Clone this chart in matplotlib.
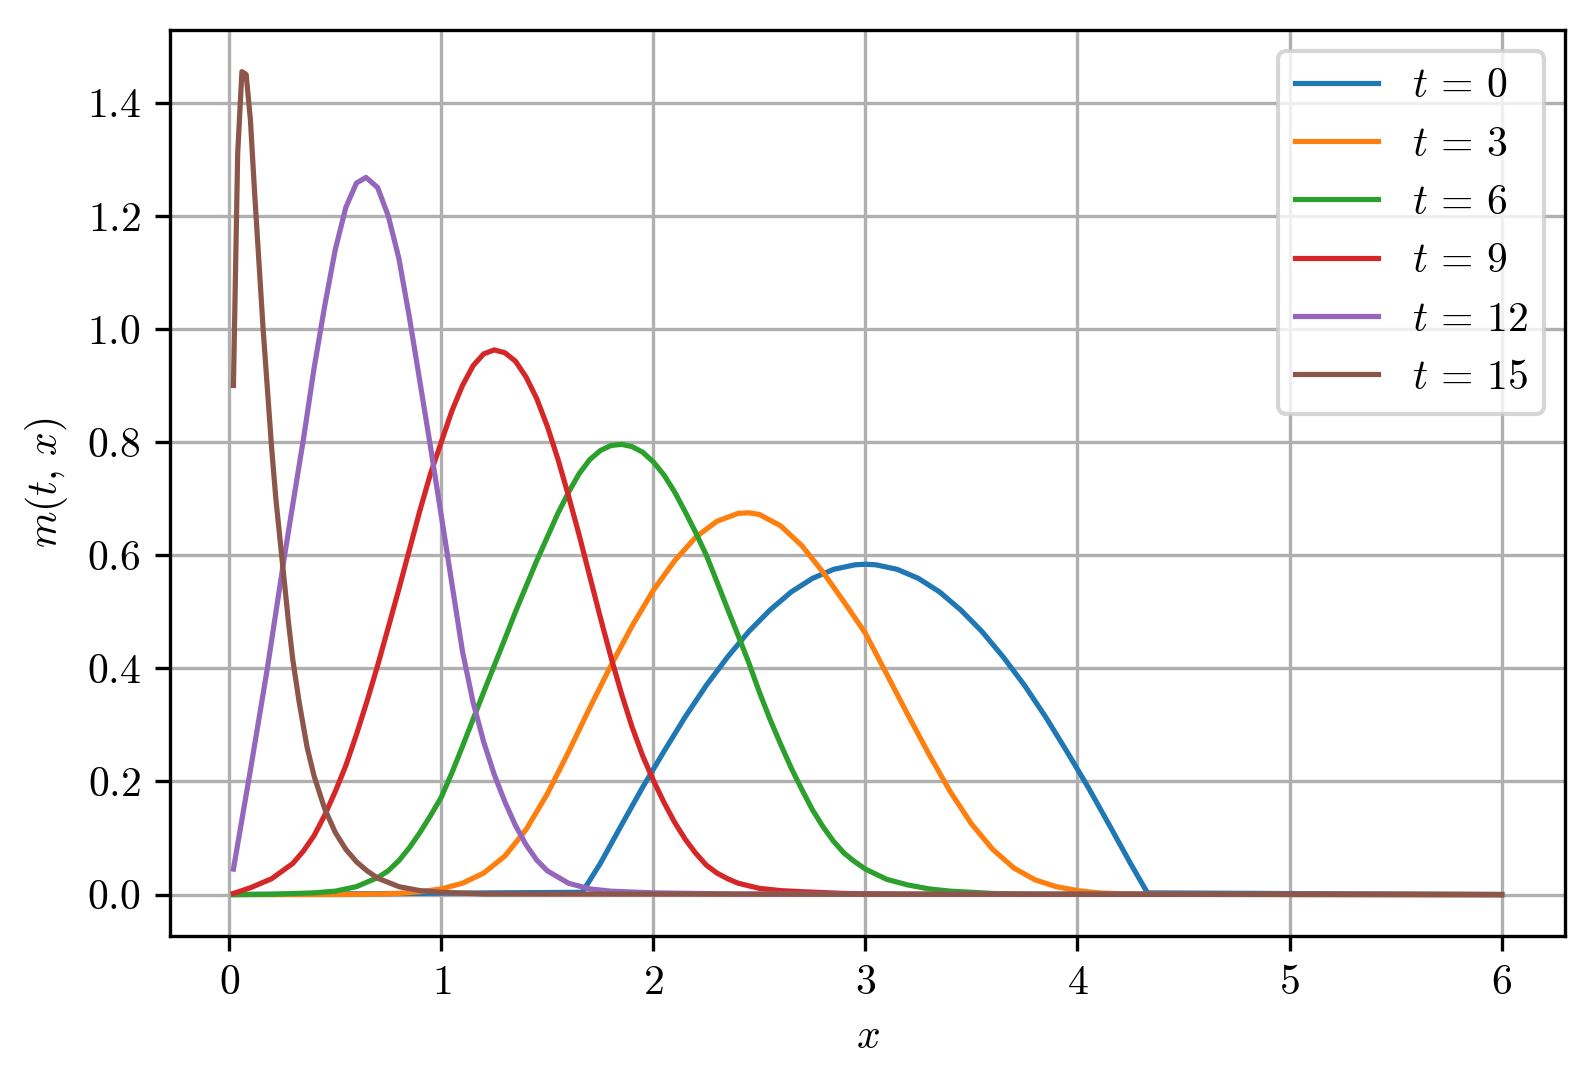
import matplotlib
matplotlib.use("Agg")
import matplotlib.pyplot as plt

plt.rcParams["font.family"] = "serif"
plt.rcParams["font.serif"] = ["cmr10", "DejaVu Serif"]
plt.rcParams["mathtext.fontset"] = "cm"
plt.rcParams["axes.formatter.use_mathtext"] = True
plt.rcParams["font.size"] = 10

# m(t, x), one curve per time
x_t0 = [0.02, 1.665, 1.75, 1.85, 1.95, 2.05, 2.15, 2.25, 2.35, 2.45, 2.55, 2.65,
        2.75, 2.85, 2.95, 3.0, 3.05, 3.15, 3.25, 3.35, 3.45, 3.55, 3.65, 3.75,
        3.85, 3.95, 4.05, 4.15, 4.25, 4.33, 6.0]
m_t0 = [0.0, 0.004, 0.055, 0.123, 0.19, 0.253, 0.314, 0.37, 0.42, 0.465, 0.503, 0.535,
        0.559, 0.575, 0.583, 0.584, 0.583, 0.575, 0.559, 0.535, 0.503, 0.465, 0.42, 0.37,
        0.314, 0.253, 0.19, 0.123, 0.055, 0.003, 0.0]

x_t3 = [0.02, 0.5, 0.7, 0.8, 0.9, 1.0, 1.1, 1.2, 1.3, 1.4, 1.5, 1.6, 1.7, 1.8, 1.9,
        2.0, 2.1, 2.2, 2.3, 2.4, 2.45, 2.5, 2.6, 2.7, 2.8, 2.9, 3.0, 3.1, 3.2, 3.3,
        3.4, 3.5, 3.6, 3.7, 3.8, 3.9, 4.0, 4.1, 4.2, 4.4, 6.0]
m_t3 = [0.0, 0.0, 0.001, 0.002, 0.005, 0.01, 0.02, 0.038, 0.068, 0.115, 0.178, 0.252,
        0.33, 0.405, 0.475, 0.538, 0.59, 0.632, 0.66, 0.674, 0.675, 0.672, 0.652, 0.617,
        0.57, 0.517, 0.462, 0.39, 0.318, 0.248, 0.182, 0.125, 0.08, 0.047, 0.026, 0.014,
        0.007, 0.003, 0.0015, 0.0003, 0.0]

x_t6 = [0.02, 0.2, 0.4, 0.5, 0.6, 0.7, 0.75, 0.8, 0.85, 0.9, 0.95, 1.0, 1.05, 1.1,
        1.15, 1.2, 1.25, 1.3, 1.35, 1.4, 1.45, 1.5, 1.55, 1.6, 1.65, 1.7, 1.75, 1.8,
        1.85, 1.9, 1.95, 2.0, 2.05, 2.1, 2.15, 2.2, 2.25, 2.3, 2.35, 2.4, 2.45, 2.5,
        2.55, 2.6, 2.65, 2.7, 2.75, 2.8, 2.85, 2.9, 2.95, 3.0, 3.1, 3.2, 3.3, 3.4,
        3.6, 3.8, 6.0]
m_t6 = [0.0, 0.0005, 0.003, 0.006, 0.014, 0.03, 0.042, 0.06, 0.083, 0.11, 0.14, 0.172,
        0.215, 0.262, 0.31, 0.358, 0.405, 0.452, 0.5, 0.545, 0.59, 0.632, 0.674, 0.711,
        0.744, 0.769, 0.785, 0.794, 0.796, 0.792, 0.782, 0.765, 0.742, 0.712, 0.677, 0.64,
        0.6, 0.553, 0.505, 0.458, 0.41, 0.358, 0.31, 0.266, 0.224, 0.186, 0.15, 0.12,
        0.094, 0.073, 0.058, 0.045, 0.027, 0.017, 0.01, 0.006, 0.002, 0.0005, 0.0]

x_t9 = [0.02, 0.1, 0.2, 0.3, 0.35, 0.4, 0.45, 0.5, 0.55, 0.6, 0.65, 0.7, 0.75, 0.8,
        0.85, 0.9, 0.95, 1.0, 1.05, 1.1, 1.15, 1.2, 1.25, 1.3, 1.35, 1.4, 1.45, 1.5,
        1.55, 1.6, 1.65, 1.7, 1.75, 1.8, 1.85, 1.9, 1.95, 2.0, 2.05, 2.1, 2.15, 2.2,
        2.25, 2.3, 2.35, 2.4, 2.5, 2.6, 2.7, 2.9, 3.2, 6.0]
m_t9 = [0.002, 0.012, 0.028, 0.055, 0.077, 0.104, 0.14, 0.182, 0.228, 0.283, 0.342,
        0.405, 0.472, 0.54, 0.61, 0.68, 0.745, 0.8, 0.855, 0.9, 0.935, 0.956, 0.963,
        0.958, 0.943, 0.915, 0.877, 0.828, 0.77, 0.705, 0.636, 0.563, 0.49, 0.42, 0.355,
        0.296, 0.245, 0.202, 0.163, 0.128, 0.098, 0.073, 0.052, 0.038, 0.028, 0.02, 0.011,
        0.007, 0.005, 0.002, 0.0005, 0.0]

x_t12 = [0.02, 0.1, 0.18, 0.258, 0.3, 0.35, 0.4, 0.45, 0.5, 0.55, 0.6, 0.645, 0.7,
         0.75, 0.8, 0.85, 0.9, 0.95, 1.0, 1.05, 1.1, 1.15, 1.2, 1.25, 1.3, 1.35, 1.4,
         1.45, 1.5, 1.6, 1.7, 1.8, 2.0, 2.4, 6.0]
m_t12 = [0.045, 0.22, 0.40, 0.592, 0.69, 0.805, 0.93, 1.04, 1.14, 1.215, 1.258, 1.268,
         1.25, 1.2, 1.125, 1.02, 0.905, 0.79, 0.67, 0.55, 0.43, 0.34, 0.27, 0.212, 0.164,
         0.122, 0.088, 0.061, 0.042, 0.02, 0.01, 0.006, 0.003, 0.001, 0.0]

x_t15 = [0.02, 0.04, 0.06, 0.08, 0.10, 0.12, 0.14, 0.16, 0.18, 0.20, 0.22, 0.25, 0.28,
         0.30, 0.33, 0.367, 0.4, 0.45, 0.5, 0.55, 0.6, 0.65, 0.7, 0.8, 0.9, 1.0, 1.2, 6.0]
m_t15 = [0.90, 1.31, 1.455, 1.45, 1.37, 1.24, 1.12, 1.0, 0.895, 0.79, 0.70, 0.59, 0.48,
         0.415, 0.34, 0.261, 0.21, 0.152, 0.11, 0.08, 0.058, 0.042, 0.029, 0.014, 0.007,
         0.004, 0.001, 0.0]

times = [0, 3, 6, 9, 12, 15]
xs = [x_t0, x_t3, x_t6, x_t9, x_t12, x_t15]
ms = [m_t0, m_t3, m_t6, m_t9, m_t12, m_t15]

fig = plt.figure(figsize=(1595 / 300, 1085 / 300), dpi=300)
ax = fig.add_axes([0.1066, 0.1376, 0.8746, 0.8343])

for t, x, m in zip(times, xs, ms):
    ax.plot(x, m, lw=1.25, label=rf"$t\,=\,{t}$")

ax.set_xlabel(r"$x$")
ax.set_ylabel(r"$m(t,\,x)$")
ax.grid(True)
ax.legend(loc="upper right")

fig.savefig("out.png", dpi=300)
